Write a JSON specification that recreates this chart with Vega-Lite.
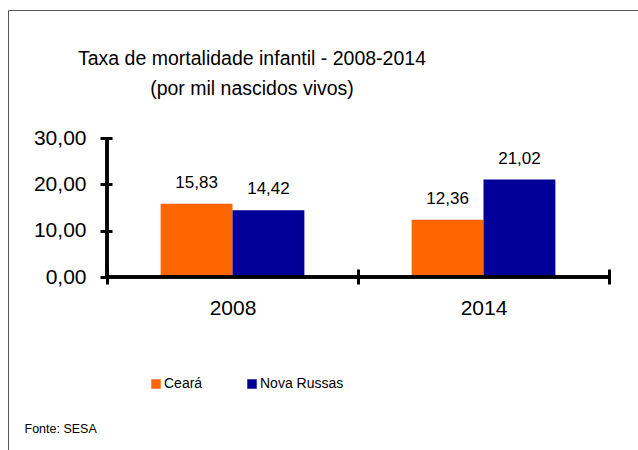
{
  "$schema": "https://vega.github.io/schema/vega-lite/v6.json",
  "autosize": "none",
  "width": 502,
  "height": 139,
  "padding": {"left": 107, "top": 138, "right": 29, "bottom": 173},
  "background": "white",
  "config": {
    "font": "Liberation Sans",
    "view": {"stroke": null},
    "locale": {"number": {"decimal": ",", "thousands": ".", "grouping": [3], "currency": ["R$", ""]}}
  },
  "title": {
    "text": ["Taxa de mortalidade infantil - 2008-2014", "(por mil nascidos vivos)"],
    "fontSize": 19.5,
    "fontWeight": "normal",
    "color": "#000000",
    "lineHeight": 30,
    "anchor": "middle",
    "frame": "group",
    "dx": -106,
    "offset": -90
  },
  "data": {
    "values": [
      {"ano": "2008", "local": "Ceará", "taxa": 15.83},
      {"ano": "2008", "local": "Nova Russas", "taxa": 14.42},
      {"ano": "2014", "local": "Ceará", "taxa": 12.36},
      {"ano": "2014", "local": "Nova Russas", "taxa": 21.02}
    ]
  },
  "layer": [
    {
      "mark": {"type": "bar"},
      "encoding": {
        "x": {
          "field": "ano", "type": "nominal",
          "scale": {"paddingInner": 0, "paddingOuter": 0},
          "axis": {
            "domain": false, "tickBand": "extent", "tickSize": 15, "tickWidth": 3, "tickColor": "#000000",
            "offset": -8, "labelPadding": 13, "labelFontSize": 21, "labelAngle": 0, "labelColor": "#000000",
            "title": "Fonte: SESA", "titleFontSize": 12.5, "titleFontWeight": "normal", "titleColor": "#000000",
            "titleX": -83, "titleY": 163, "titleAlign": "left", "titleAnchor": "start", "titleBaseline": "alphabetic"
          }
        },
        "xOffset": {"field": "local", "type": "nominal", "scale": {"paddingInner": 0, "paddingOuter": 0.746}},
        "y": {
          "field": "taxa", "type": "quantitative",
          "scale": {"domain": [0, 30], "nice": false},
          "axis": {
            "domain": false, "values": [0, 10, 20, 30], "format": ".2f", "grid": false,
            "tickSize": 12, "tickWidth": 3, "tickColor": "#000000", "offset": -5,
            "labelPadding": 14, "labelFontSize": 21, "labelColor": "#000000", "title": null
          }
        },
        "color": {
          "field": "local", "type": "nominal",
          "scale": {"domain": ["Ceará", "Nova Russas"], "range": ["#FF6600", "#000099"]},
          "legend": {
            "title": null, "orient": "none", "direction": "horizontal", "legendX": 42, "legendY": 239,
            "symbolType": "square", "symbolSize": 90, "symbolStrokeWidth": 0,
            "labelFontSize": 14,
            "labelColor": "#000000", "labelOffset": 1, "columnPadding": 42, "padding": 0
          }
        }
      }
    },
    {
      "mark": {"type": "text", "fontSize": 17, "dy": -16, "baseline": "alphabetic", "color": "#000000"},
      "encoding": {
        "x": {"field": "ano", "type": "nominal"},
        "xOffset": {"field": "local", "type": "nominal"},
        "y": {"field": "taxa", "type": "quantitative"},
        "text": {"field": "taxa", "type": "quantitative", "format": ".2f"}
      }
    },
    {
      "mark": {"type": "rule", "strokeWidth": 3, "color": "#000000"},
      "encoding": {
        "y": {"datum": 0},
        "opacity": {
          "datum": "moldura", "type": "nominal",
          "scale": {"range": [1, 1]},
          "legend": {
            "title": null, "orient": "none", "legendX": -99, "legendY": -128, "padding": 700,
            "strokeColor": "#555555", "fillColor": "transparent",
            "symbolOpacity": 0, "labelOpacity": 0, "labelExpr": "''", "labelFontSize": 1
          }
        }
      }
    },
    {
      "mark": {"type": "rule", "strokeWidth": 3, "color": "#000000"},
      "encoding": {"x": {"datum": "2008", "bandPosition": 0}}
    }
  ]
}
